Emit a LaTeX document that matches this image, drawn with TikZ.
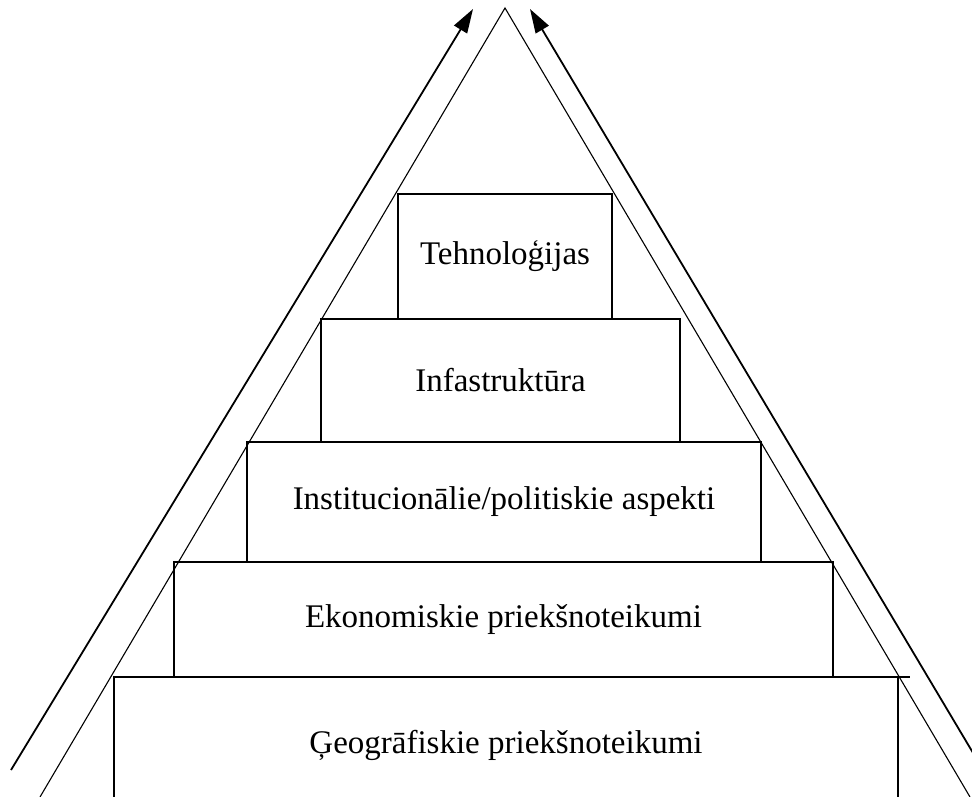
\documentclass[tikz,border=0pt]{standalone}
\usepackage{fontspec}
\setmainfont{Liberation Serif}
\usetikzlibrary{arrows.meta}
\usetikzlibrary{positioning}
\tikzstyle{level}=[draw, line width=1.1pt, inner sep=0pt, outer sep=0pt,
anchor=center, text centered, font=\fontsize{33}{38}\selectfont]
\tikzstyle{side}=[line width=1.1pt]
\tikzstyle{myarrow}=[-{Triangle[length=24pt,width=15pt]}, line width=1.8pt]

\begin{document}
\begin{tikzpicture}[x=1pt, y=-1pt]

    \useasboundingbox (0,0) rectangle (972,797);
    \clip (0,0) rectangle (972,797);

    % pyramid steps, from the base up
    \node[level, minimum width=784pt, minimum height=136pt] (geo) at (506,745) {Ģeogrāfiskie priekšnoteikumi};
    \node[level, minimum width=659pt, minimum height=115pt, above=0pt of geo, xshift=-2.5pt] (eko) {Ekonomiskie priekšnoteikumi};
    \node[level, minimum width=514pt, minimum height=120pt, above=0pt of eko, xshift=0.5pt] (inst) {Institucionālie/politiskie aspekti};
    \node[level, minimum width=359pt, minimum height=123pt, above=0pt of inst, xshift=-3.5pt] (infra) {Infastruktūra};
    \node[level, minimum width=214pt, minimum height=125pt, above=0pt of infra, xshift=4.5pt] (tech) {Tehnoloģijas};

    \draw[side] (geo.north east) -- ++(12,0);

    % the triangle
    \coordinate (top) at (505,8);
    \coordinate (left) at (40,797);
    \coordinate (right) at (970,797);
    \draw[side] (left) -- (top) -- (right);

    % arrows along the sides
    \coordinate (lstart) at (11,770);
    \coordinate (ltip) at (473,9);
    \coordinate (rstart) at (985,773);
    \coordinate (rtip) at (530,9);
    \draw[myarrow] (lstart) -- (ltip);
    \draw[myarrow] (rstart) -- (rtip);

\end{tikzpicture}
\end{document}
